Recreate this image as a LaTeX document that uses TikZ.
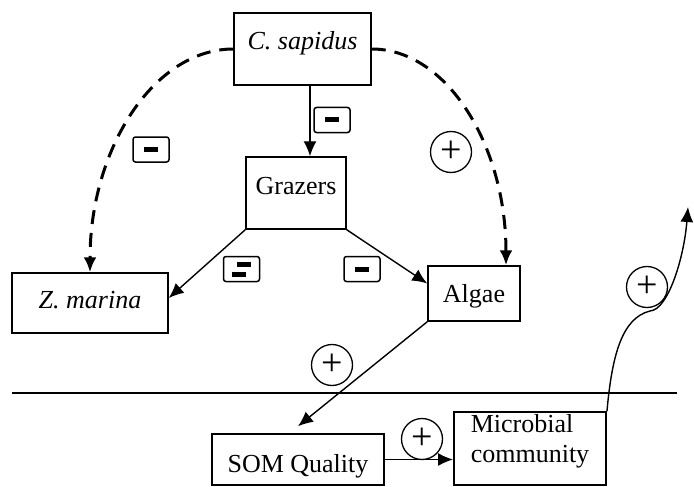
\documentclass[tikz,border=0pt]{standalone}
\usepackage{fontspec}
\setmainfont{Liberation Serif}
\usetikzlibrary{arrows.meta}

\begin{document}
\begin{tikzpicture}[
    x=1pt, y=-1pt,
    every node/.style={font=\fontsize{26}{30}\selectfont},
    box/.style={draw, line width=1.5pt, inner sep=0pt},
    link/.style={-{Latex[length=15pt,width=13pt]}, line width=1.4pt},
    indirect/.style={-{Latex[length=15pt,width=13pt]}, line width=3pt,
        dash pattern=on 14pt off 9pt},
    minusbox/.style={draw, rounded corners=2.5pt, line width=1.5pt,
        minimum width=36pt, minimum height=25pt, inner sep=0pt},
    plus/.style={draw, circle, line width=1.3pt, minimum size=41pt,
        inner sep=0pt, font=\fontsize{38}{38}\selectfont}
]
\useasboundingbox (0,0) rectangle (694,487);

% Species
\node[box, text height=37pt, text depth=35pt, minimum width=137pt] (csap)
    at (302.5,49) {\textit{C. sapidus}};

\node[box, text height=37pt, text depth=35pt, minimum width=100pt] (grazers)
    at (296,193) {Grazers};

\node[box, text height=35pt, text depth=25pt, minimum width=156pt] (zmar)
    at (90,303) {\textit{Z. marina}};

\node[box, text height=36pt, text depth=19pt, minimum width=92pt] (algae)
    at (474,293.5) {Algae};

% Sediment
\node[box, text height=38pt, text depth=13pt, minimum width=172pt] (som)
    at (298,459.5) {SOM Quality};

\node[box, align=left, inner xsep=17pt, text height=50pt, text depth=23pt] (micro)
    at (530,448.5) {Microbial\\community};

% sediment surface
\coordinate (shoreW) at (12,393);
\coordinate (shoreE) at (677,393);
\draw[line width=1.5pt] (shoreW) -- (shoreE);

\coordinate (up) at (688,207);

% arrows
\draw[link] ([xshift=7.5pt]csap.south) -- ([xshift=7.5pt]csap.south |- grazers.north);
\draw[link] (grazers.south west) -- ([yshift=5pt]zmar.east);
\draw[link] (grazers.south east) -- ([yshift=10pt]algae.west);
\draw[link] (algae.south west) -- ([yshift=7pt]som.north);
\draw[link] (som.east) -- (som.east -| micro.west);
\draw[link] (micro.north east) .. controls (612,355) and (622,318) .. (650,311)
    .. controls (668,310) and (684,258) .. (up);

\draw[indirect] (csap.west) .. controls +(-79,0) and +(0,-124) .. (zmar.north);
\draw[indirect] (csap.east) .. controls +(75,0) and +(0,-120) .. ([xshift=32pt]algae.north);

% signs
\node[minusbox] (mcg) at (332,120) {\rule[-2.5pt]{14pt}{5pt}};
\node[minusbox] (mcz) at (151,149.5) {\rule[-2.5pt]{14pt}{5pt}};
\node[minusbox] (mgz) at (241.5,269)
    {\vbox{\offinterlineskip\hbox{\kern5pt\vrule width 14pt height 5pt}\kern5pt
    \hbox{\vrule width 14pt height 5pt\kern5pt}}};
\node[minusbox] (mga) at (362,269) {\rule[-2.5pt]{14pt}{5pt}};

\node[plus] (pca) at (451,152) {+};
\node[plus] (pas) at (332,365) {+};
\node[plus] (psm) at (422,439) {+};
\node[plus] (pmc) at (647,287) {+};

\end{tikzpicture}
\end{document}
